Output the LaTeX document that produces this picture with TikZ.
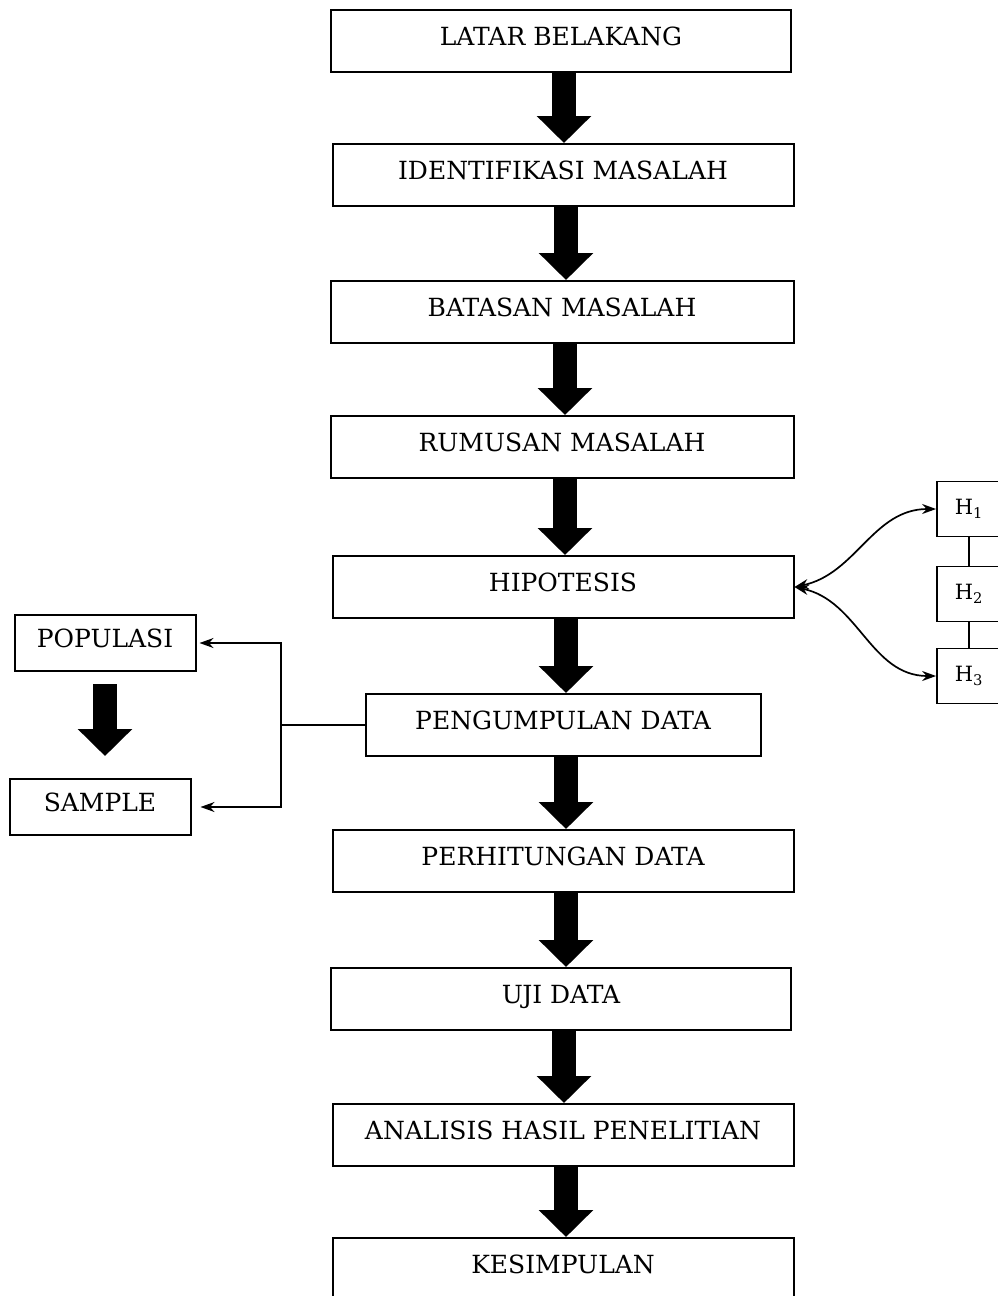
\documentclass[tikz,border=0pt]{standalone}
\usepackage{fontspec}
\setmainfont{DejaVu Serif}
\usetikzlibrary{arrows.meta, positioning, calc}
\tikzset{
  flow/.style={draw, line width=2pt, minimum height=62pt, inner sep=0pt,
    text height=18pt, text depth=10pt, font=\fontsize{25}{30}\selectfont},
  side/.style={flow, minimum width=181pt, minimum height=56pt},
  hbox/.style={draw, line width=1.8pt, minimum width=64pt, minimum height=55pt,
    inner sep=0pt, font=\fontsize{21}{26}\selectfont},
  fatarrow/.style={line width=24pt, -{Triangle[width=53pt, length=27pt]}},
  link/.style={line width=1.7pt},
  tip/.style={-{Stealth[length=14pt, width=10pt]}}
}
\newcommand{\flowbox}[4]{%
  \node[flow, minimum width=#4] (#1) at (#2) {#3};}

\begin{document}
\begin{tikzpicture}[x=1pt, y=-1pt]
  \useasboundingbox (0,0) rectangle (998,1296);
  \clip (0,0) rectangle (998,1296);
  % main column
  \flowbox{latar}{561,41}{LATAR BELAKANG}{460pt}
  \flowbox{identif}{563,175}{IDENTIFIKASI MASALAH}{461pt}
  \flowbox{batasan}{562,312}{BATASAN MASALAH}{463pt}
  \flowbox{rumusan}{562,447}{RUMUSAN MASALAH}{463pt}
  \flowbox{hipo}{563,587}{HIPOTESIS}{461pt}
  \flowbox{kumpul}{563,725}{PENGUMPULAN DATA}{395pt}
  \flowbox{hitung}{563,861}{PERHITUNGAN DATA}{461pt}
  \flowbox{uji}{561,999}{UJI DATA}{460pt}
  \flowbox{analisis}{563,1135}{ANALISIS HASIL PENELITIAN}{461pt}
  \flowbox{simpul}{563,1269}{KESIMPULAN}{461pt}
  \foreach \a/\b in {latar/identif, identif/batasan, batasan/rumusan,
      rumusan/hipo, hipo/kumpul, kumpul/hitung, hitung/uji, uji/analisis,
      analisis/simpul}
    \draw[fatarrow] ($(\a.south)+(3,0)$) -- ($(\a.south |- \b.north)+(3,0)$);
  % sampling
  \node[side] (pop) at (105,643) {POPULASI};
  \node[side] (sample) at (100,807) {SAMPLE};
  \draw[fatarrow, shorten <=12pt, shorten >=22pt] (pop.south) -- (pop.south |- sample.north);
  \coordinate (split) at (281,725);
  \draw[link] (kumpul.west) -- (split);
  \draw[link, tip, shorten >=3pt] (split) |- (pop.east);
  \draw[link, tip, shorten >=9pt] (split) |- (sample.east);
  % hypotheses
  \node[hbox] (h1) at (969,509) {H\textsubscript{1}};
  \node[hbox] (h2) at (969,594) {H\textsubscript{2}};
  \node[hbox] (h3) at (969,676) {H\textsubscript{3}};
  \draw[link] (h1) -- (h2);
  \draw[link] (h2) -- (h3);
  \draw[link, {Stealth[length=14pt, width=10pt]}-{Stealth[length=14pt, width=10pt]}]
    (hipo.east) to[out=12, in=180] (h1.west);
  \draw[link, {Stealth[length=14pt, width=10pt]}-{Stealth[length=14pt, width=10pt]}]
    (hipo.east) to[out=-12, in=180] (h3.west);
\end{tikzpicture}
\end{document}
